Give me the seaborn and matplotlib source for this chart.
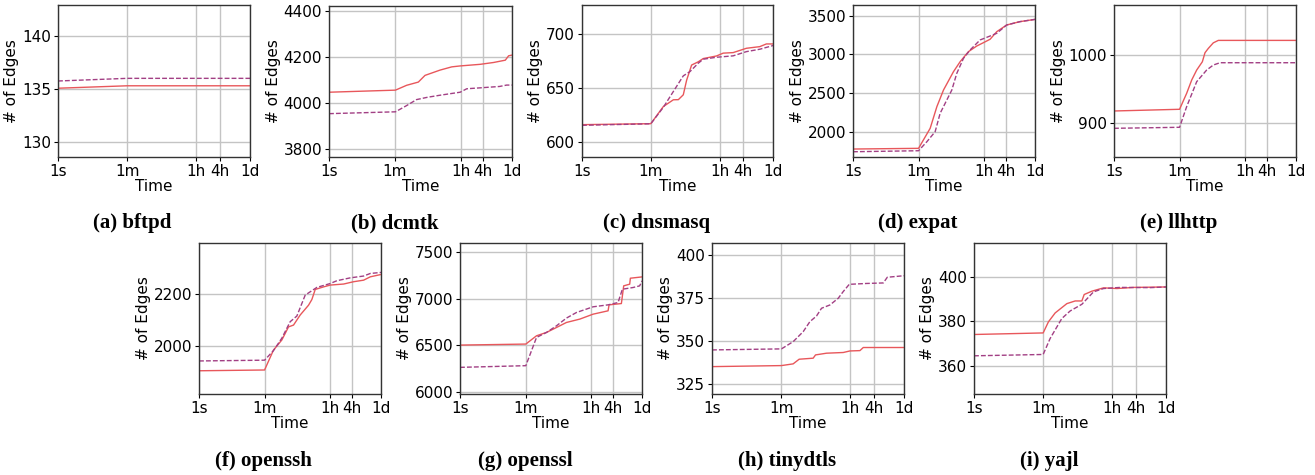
import numpy as np
import pandas as pd
import matplotlib
matplotlib.use("Agg")
import matplotlib.pyplot as plt
from matplotlib.ticker import FixedLocator, NullLocator, MultipleLocator, FixedFormatter
import seaborn as sns

# ---------------- data (time in seconds, edges) ----------------
TICK_POS = [1, 60, 3600, 14400, 86400]
TICK_LAB = ["1s", "1m", "1h", "4h", "1d"]

# (a) bftpd
A_T1 = [1, 60, 86400]
A_V1 = [135.07, 135.3, 135.3]
A_T2 = [1, 60, 86400]
A_V2 = [135.75, 136.0, 136.0]

# (b) dcmtk
B_T1 = [1, 62, 124, 257, 389, 991, 2051, 3450, 12000, 27560, 57000, 70000, 86400]
B_V1 = [4046, 4055, 4076, 4090, 4119, 4142, 4156, 4160, 4167, 4175, 4185, 4204, 4207]
B_T2 = [1, 62, 124, 230, 450, 991, 3450, 5200, 12000, 40000, 62000, 86400]
B_V2 = [3953, 3961, 3988, 4014, 4024, 4033, 4046, 4061, 4065, 4071, 4077, 4077]

# (c) dnsmasq
C_T1 = [1, 60, 127, 230, 309, 415, 506, 681, 1011, 1360, 3000, 4454, 8060, 17780, 39200, 58200, 86400]
C_V1 = [615.9, 616.8, 632.7, 638.9, 639.0, 643.5, 657.0, 671.0, 674.0, 677.0, 679.4, 682.0, 682.5, 686.5, 688.0, 690.5, 690.5]
C_T2 = [1, 60, 127, 230, 415, 620, 1011, 1360, 3000, 8060, 17780, 39200, 86400]
C_V2 = [615.3, 616.7, 632.0, 646.6, 661.0, 665.0, 672.7, 676.4, 678.2, 679.5, 683.4, 685.6, 689.0]

# (d) expat
D_T1 = [1, 60, 124, 188, 285, 531, 805, 1354, 2276, 3450, 5225, 7920, 14760, 33900, 86400]
D_V1 = [1776, 1785, 2044, 2323, 2539, 2776, 2905, 3035, 3108, 3151, 3195, 3293, 3380, 3423, 3452]
D_T2 = [1, 60, 101, 169, 231, 479, 654, 991, 1502, 2800, 5225, 7920, 14760, 33900, 86400]
D_V2 = [1741, 1754, 1871, 2000, 2238, 2539, 2755, 2948, 3057, 3186, 3237, 3272, 3380, 3423, 3452]

# (e) llhttp
E_T1 = [1, 60, 93.5, 128, 175, 249, 294, 362, 494, 676, 86400]
E_V1 = [917.3, 919.8, 943.4, 963.0, 977.8, 990.0, 1003.4, 1009.8, 1018.0, 1021.6, 1021.6]
E_T2 = [1, 60, 93.5, 175, 326, 494, 750, 86400]
E_V2 = [891.7, 893.2, 923.7, 960.6, 977.8, 985.2, 988.6, 988.6]

# (f) openssh
F_T1 = [1, 60, 104.6, 176, 268, 366, 555, 935, 1152, 1420, 2390, 3630, 8360, 15630, 29200, 44300, 86400]
F_V1 = [1903, 1906, 1983, 2022, 2073, 2080, 2119, 2157, 2179, 2218, 2228, 2235, 2239, 2248, 2254, 2267, 2276]
F_T2 = [1, 60, 104.6, 176, 297, 451, 759, 1038, 1576, 3630, 5510, 12700, 29200, 44300, 86400]
F_V2 = [1941, 1944, 1981, 2029, 2093, 2115, 2196, 2209, 2226, 2241, 2252, 2263, 2270, 2280, 2284]

# (g) openssl
G_T1 = [1, 61, 119, 222, 414, 772, 1775, 4073, 10380, 11050, 23830, 27550, 40060, 41770, 86400]
G_V1 = [6500, 6511, 6600, 6636, 6689, 6743, 6779, 6832, 6868, 6932, 6946, 7136, 7154, 7218, 7232]
G_T2 = [1, 61, 119, 222, 414, 772, 1442, 4073, 10380, 19360, 25350, 49320, 74700, 86400]
G_V2 = [6261, 6279, 6582, 6636, 6707, 6790, 6850, 6911, 6932, 6957, 7100, 7118, 7136, 7190]

# (h) tinydtls
H_T1 = [1, 61, 122, 174, 399, 459, 881, 2367, 3515, 6360, 7750, 86400]
H_V1 = [335.3, 335.9, 336.9, 339.6, 340.2, 342.1, 343.1, 343.5, 344.4, 344.6, 346.4, 346.4]
H_T2 = [1, 61, 122, 221, 328, 487, 655, 1073, 1760, 2367, 3380, 9440, 25370, 32140, 86400]
H_V2 = [345.0, 345.6, 349.8, 355.6, 361.4, 364.7, 369.2, 371.1, 375.0, 378.9, 383.1, 383.6, 383.9, 387.2, 388.1]

# (i) yajl
I_T1 = [1, 60, 82, 122, 244, 399, 593, 681, 1073, 2143, 4725, 12700, 86400]
I_V1 = [374.1, 374.8, 379.8, 383.8, 388.0, 389.2, 389.2, 392.1, 393.6, 395.1, 394.8, 395.3, 395.5]
I_T2 = [1, 60, 90.6, 181, 297, 593, 1184, 2143, 5757, 34100, 86400]
I_V2 = [364.5, 365.1, 372.3, 381.3, 384.7, 387.7, 393.3, 394.8, 395.3, 395.2, 395.5]

NAMES = ["(a) bftpd", "(b) dcmtk", "(c) dnsmasq", "(d) expat", "(e) llhttp",
         "(f) openssh", "(g) openssl", "(h) tinydtls", "(i) yajl"]
SERIES = [(A_T1, A_V1, A_T2, A_V2), (B_T1, B_V1, B_T2, B_V2), (C_T1, C_V1, C_T2, C_V2),
          (D_T1, D_V1, D_T2, D_V2), (E_T1, E_V1, E_T2, E_V2), (F_T1, F_V1, F_T2, F_V2),
          (G_T1, G_V1, G_T2, G_V2), (H_T1, H_V1, H_T2, H_V2), (I_T1, I_V1, I_T2, I_V2)]
YLIMS = [(128.6, 142.9), (3765, 4420), (586, 726.5), (1673, 3638), (849.3, 1073.9),
         (1813, 2398), (5975, 7596), (319.4, 407.1), (347.3, 415.3)]
YSTEP = [5, 200, 50, 500, 100, 200, 500, 25, 20]

# ---------------- layout (pixels) ----------------
W, H = 1315, 475
BOXES = [(58, 250, 5, 157), (329, 512, 6, 157), (582, 773, 5, 157), (853, 1035, 5, 157),
         (1114, 1296, 5, 157),
         (199, 381, 243, 394), (460, 642, 243, 394), (712, 904, 243, 394), (974, 1166, 243, 394)]
CAPS = [(132.5, 223), (395, 223), (657, 223), (918, 223), (1179, 223),
        (263, 461), (525.5, 461), (787, 461), (1049, 461)]

SOLID_C = "#e8575b"
DASH_C = "#a23f84"

sns.set_style("whitegrid", {"axes.edgecolor": "#333333", "grid.color": "#c4c4c4",
                            "xtick.bottom": True, "ytick.left": True,
                            "xtick.color": "black", "ytick.color": "black",
                            "text.color": "black", "axes.labelcolor": "black"})
plt.rcParams["font.family"] = ["DejaVu Sans"]

fig = plt.figure(figsize=(W / 100, H / 100), dpi=100)

for i, (name, ser, ylim, ystep, box, cap) in enumerate(zip(NAMES, SERIES, YLIMS, YSTEP, BOXES, CAPS)):
    l, r, t, b = box
    ax = fig.add_axes([l / W, 1 - b / H, (r - l) / W, (b - t) / H])
    t1, v1, t2, v2 = ser
    df1 = pd.DataFrame({"Time": t1, "Edges": v1})
    df2 = pd.DataFrame({"Time": t2, "Edges": v2})
    sns.lineplot(data=df1, x="Time", y="Edges", ax=ax, color=SOLID_C, lw=1.0)
    sns.lineplot(data=df2, x="Time", y="Edges", ax=ax, color=DASH_C, lw=1.0,
                 linestyle=(0, (3.5, 1.5)))
    ax.set_xscale("log")
    ax.set_xlim(1, 86400)
    ax.set_ylim(*ylim)
    ax.xaxis.set_major_locator(FixedLocator(TICK_POS))
    ax.xaxis.set_major_formatter(FixedFormatter(TICK_LAB))
    ax.xaxis.set_minor_locator(NullLocator())
    ax.yaxis.set_major_locator(MultipleLocator(ystep))
    ax.grid(True, color="#c4c4c4", lw=1.0)
    ax.tick_params(axis="both", labelsize=11, length=3, width=0.8, pad=2, labelcolor="black")
    ax.set_xlabel("Time", fontsize=11, labelpad=0, color="black")
    ax.set_ylabel("# of Edges", fontsize=11, labelpad=2, color="black")
    for s in ax.spines.values():
        s.set_color("#333333")
        s.set_linewidth(1.0)
    fig.text(cap[0] / W, 1 - cap[1] / H, name, ha="center", va="center", color="black",
             fontsize=15, fontweight="bold", family=["Liberation Serif", "DejaVu Serif"])

fig.savefig("out.png", dpi=100)
